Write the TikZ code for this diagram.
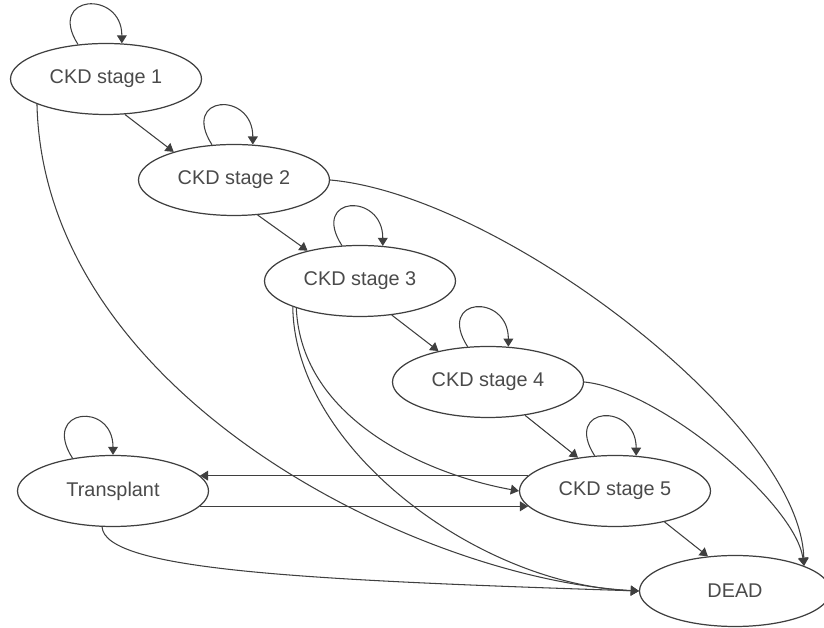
\documentclass[tikz,border=0pt]{standalone}
\usepackage{fontspec}
\setmainfont{Liberation Sans}
\usepackage{tikz}
\usetikzlibrary{
  arrows.meta,
  shapes.geometric
}
\usepackage{xcolor}
\definecolor{linegray}{HTML}{3F3F3F}
\definecolor{textgray}{HTML}{4A4A4A}
\tikzset{
  state/.style={
    draw=linegray, ellipse, line width=0.7pt,
    minimum width=3.82cm, minimum height=1.42cm,
    inner sep=0pt, text=textgray,
    font=\fontsize{11.3}{13}\selectfont
  },
  trans arrow/.style={
    -{Triangle[length=4.6pt,width=5.6pt]}, line width=0.6pt, draw=linegray
  },
}

\begin{document}
\begin{tikzpicture}
  \useasboundingbox (0,0) rectangle (16.48,12.56);

  % States
  \node[state] (s1) at (2.12, 10.98) {CKD stage 1};
  \node[state] (s2) at (4.68, 8.96) {CKD stage 2};
  \node[state] (s3) at (7.20, 6.94) {CKD stage 3};
  \node[state] (s4) at (9.76, 4.92) {CKD stage 4};
  \node[state] (s5) at (12.30, 2.74) {CKD stage 5};
  \node[state] (tr) at (2.26, 2.74) {Transplant};
  \node[state] (dead) at (14.70, 0.74) {DEAD};

  % Staying in the same state
  \draw[trans arrow] (s1.129) .. controls +(-0.64,1.0) and +(0,1.08) .. (s1.66);
  \draw[trans arrow] (s2.122) .. controls +(-0.64,1.0) and +(0,1.08) .. (s2.62);
  \draw[trans arrow] (s3.117) .. controls +(-0.64,1.0) and +(0,1.08) .. (s3.57);
  \draw[trans arrow] (s4.120) .. controls +(-0.64,1.0) and +(0,1.08) .. (s4.60);
  \draw[trans arrow] (s5.120) .. controls +(-0.64,1.0) and +(0,1.08) .. (s5.59);
  \draw[trans arrow] (tr.141) .. controls +(-0.64,1.0) and +(0,1.08) .. (tr.90);

  % Progression
  \draw[trans arrow] (s1.298) -- (s2.155);
  \draw[trans arrow] (s2.304) -- (s3.150);
  \draw[trans arrow] (s3.313) -- (s4.148);
  \draw[trans arrow] (s4.318) -- (s5.138);
  \draw[trans arrow] (s5.328) -- (dead.128);

  % Transplant and back
  \draw[trans arrow] (s5.170) -- (tr.10);
  \draw[trans arrow] (tr.350) -- (s5.190);

  % Death from the other states
  \draw[trans arrow] (s1.200) .. controls +(0.14,-5.86) and +(-4.36,0.24) .. (dead.west);
  \draw[trans arrow] (s3.201) .. controls +(0.04,-2.86) and +(-3.18,0.12) .. (dead.west);
  \draw[trans arrow] (s3.203) .. controls +(0.1,-2.26) and +(-1.78,0.32) .. (s5.west);
  \draw[trans arrow] (tr.253) .. controls +(0.06,-0.86) and +(-6.78,0.22) .. (dead.west);
  \draw[trans arrow] (s2.east) .. controls +(3.4,-0.3) and +(-0.08,2.86) .. (dead.20);
  \draw[trans arrow] (s4.east) .. controls +(1.5,-0.14) and +(-0.18,1.26) .. (dead.20);

\end{tikzpicture}
\end{document}
